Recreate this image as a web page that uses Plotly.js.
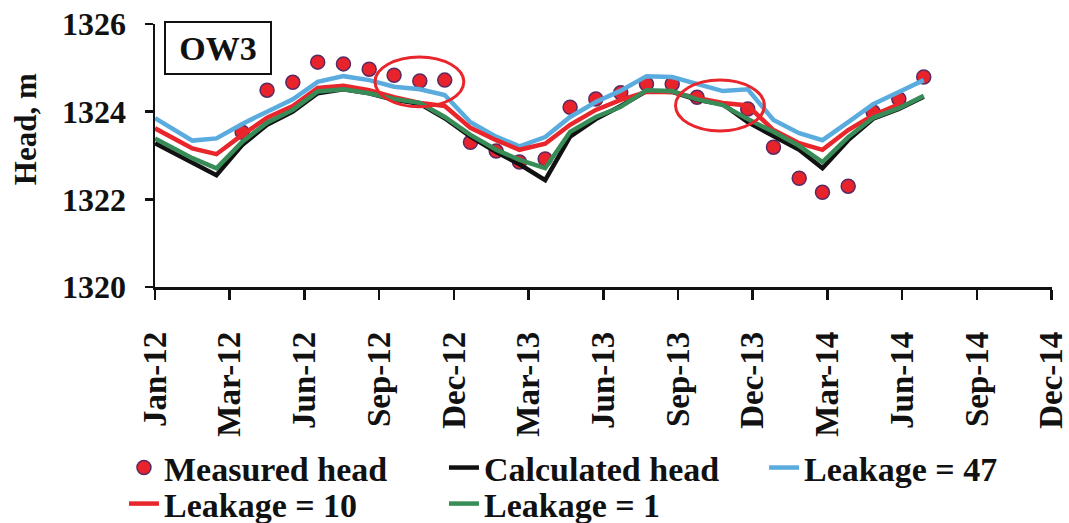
<!DOCTYPE html>
<html>
<head>
<meta charset="utf-8">
<script src="https://cdn.plot.ly/plotly-3.0.1.min.js"></script>
<style>html,body{margin:0;padding:0;background:#fff;}</style>
</head>
<body>
<div id="chart" style="width:1069px;height:523px;"></div>
<script>
// Measured heads (mid-month observations)
const measuredDates = ['2012-04-15','2012-05-15','2012-06-15','2012-07-15','2012-08-15','2012-09-15','2012-10-15','2012-11-15','2012-12-15',
  '2013-01-15','2013-02-15','2013-03-15','2013-04-15','2013-05-15','2013-06-15','2013-07-15','2013-08-15','2013-09-15','2013-10-15','2013-11-15','2013-12-15',
  '2014-01-15','2014-02-15','2014-03-15','2014-04-15','2014-05-15','2014-06-15','2014-07-15'];
const measuredHead = [1323.53,1324.49,1324.67,1325.13,1325.09,1324.97,1324.83,1324.70,1324.72,
  1323.30,1323.10,1322.85,1322.92,1324.10,1324.29,1324.43,1324.63,1324.63,1324.33,null,1324.06,
  1323.19,1322.48,1322.16,1322.30,1323.99,1324.29,1324.79];

// Model output dates
const modelDates = ['2012-01-01','2012-02-15','2012-03-15','2012-04-15','2012-05-15','2012-06-15','2012-07-15','2012-08-15','2012-09-15','2012-10-15','2012-11-15','2012-12-15',
  '2013-01-15','2013-02-15','2013-03-15','2013-04-15','2013-05-15','2013-06-15','2013-07-15','2013-08-15','2013-09-15','2013-10-15','2013-11-15','2013-12-15',
  '2014-01-15','2014-02-15','2014-03-15','2014-04-15','2014-05-15','2014-06-15','2014-07-15'];
const calculatedHead = [1323.28,1322.84,1322.55,1323.24,1323.70,1324.00,1324.42,1324.51,1324.42,1324.27,1324.18,1323.85,
  1323.43,1323.08,1322.80,1322.44,1323.43,1323.83,1324.13,1324.47,1324.45,1324.27,1324.17,1323.76,
  1323.44,1323.13,1322.71,1323.35,1323.84,1324.06,1324.34];
const leakage47 = [1323.85,1323.34,1323.39,1323.72,1324.00,1324.28,1324.68,1324.81,1324.72,1324.57,1324.51,1324.38,
  1323.76,1323.43,1323.21,1323.42,1323.88,1324.22,1324.48,1324.81,1324.79,1324.63,1324.47,1324.51,
  1323.81,1323.51,1323.35,1323.76,1324.17,1324.45,1324.72];
const leakage10 = [1323.62,1323.16,1323.03,1323.47,1323.86,1324.13,1324.54,1324.59,1324.49,1324.33,1324.20,1324.13,
  1323.63,1323.35,1323.13,1323.27,1323.70,1324.04,1324.27,1324.45,1324.45,1324.31,1324.20,1324.14,
  1323.58,1323.28,1323.13,1323.58,1323.92,1324.17];
const leakage1 = [1323.39,1322.94,1322.71,1323.31,1323.75,1324.04,1324.46,1324.51,1324.42,1324.29,1324.20,1323.88,
  1323.47,1323.13,1322.90,1322.71,1323.54,1323.88,1324.11,1324.49,1324.47,1324.28,1324.15,1323.83,
  1323.54,1323.22,1322.85,1323.42,1323.86,1324.08,1324.36];

const yTicks = [1320, 1322, 1324, 1326];

const FONT = 'Liberation Serif, Times New Roman, serif';
const lineW = 4.5;

const traces = [
  {x: measuredDates, y: measuredHead, name: 'Measured head', type: 'scatter', mode: 'markers',
   marker: {color: '#e8232b', size: 14, line: {color: '#5a2a63', width: 1.5}}, legend: 'legend'},
  {x: modelDates.slice(0, calculatedHead.length), y: calculatedHead, name: 'Calculated head', type: 'scatter', mode: 'lines',
   line: {color: '#111111', width: lineW}, legend: 'legend'},
  {x: modelDates.slice(0, leakage47.length), y: leakage47, name: 'Leakage = 47', type: 'scatter', mode: 'lines',
   line: {color: '#5aacdf', width: lineW}, legend: 'legend3'},
  {x: modelDates.slice(0, leakage10.length), y: leakage10, name: 'Leakage = 10', type: 'scatter', mode: 'lines',
   line: {color: '#e8262b', width: lineW}, legend: 'legend2'},
  {x: modelDates.slice(0, leakage1.length), y: leakage1, name: 'Leakage = 1', type: 'scatter', mode: 'lines',
   line: {color: '#378c57', width: lineW}, legend: 'legend2'}
];

const legendFont = {family: FONT, size: 34, color: '#111', weight: 'bold'};
const legendBase = {orientation: 'h', xanchor: 'left', yanchor: 'middle',
  entrywidth: 275, entrywidthmode: 'pixels', font: legendFont, bgcolor: 'rgba(0,0,0,0)'};

const layout = {
  width: 1069, height: 523,
  margin: {l: 155, r: 17, t: 24, b: 236, autoexpand: false},
  paper_bgcolor: '#fff', plot_bgcolor: '#fff',
  showlegend: true,
  xaxis: {
    type: 'date',
    range: ['2012-01-01', '2014-12-16 12:00'],
    tick0: '2012-01-01', dtick: 90 * 86400000,
    tickformat: '%b-%y', tickangle: -90,
    ticks: 'outside', ticklen: 10, tickwidth: 2.5, tickcolor: '#111',
    showline: true, linewidth: 2.5, linecolor: '#111',
    showgrid: false, zeroline: false,
    ticklabelstandoff: 19, ticklabeloverflow: 'allow',
    tickfont: {family: FONT, size: 33, color: '#111', weight: 'bold'}
  },
  yaxis: {
    range: [1320, 1326], tickvals: yTicks,
    ticks: 'outside', ticklen: 8, tickwidth: 2.5, tickcolor: '#111',
    showline: true, linewidth: 2.5, linecolor: '#111',
    showgrid: false, zeroline: false,
    ticklabelstandoff: 12,
    tickfont: {family: FONT, size: 32, color: '#111', weight: 'bold'}
  },
  legend: Object.assign({}, legendBase, {x: -0.0346, y: -0.688}),
  legend3: Object.assign({}, legendBase, {x: 0.679, y: -0.688}),
  legend2: Object.assign({}, legendBase, {x: -0.0346, y: -0.825}),
  annotations: [
    {text: 'OW3', xref: 'paper', yref: 'paper', x: 0.01, y: 1.013, xanchor: 'left', yanchor: 'top',
     showarrow: false, font: {family: FONT, size: 34, color: '#111', weight: 'bold'},
     bordercolor: '#111', borderwidth: 2, borderpad: 5, bgcolor: '#fff', width: 94, height: 40},
    {text: 'Head, m', xref: 'paper', yref: 'paper', x: -0.145, y: 0.60, xanchor: 'center', yanchor: 'middle',
     textangle: -90, showarrow: false, font: {family: FONT, size: 31, color: '#111', weight: 'bold'}}
  ],
  shapes: [
    {type: 'circle', xref: 'x', yref: 'y', x0: '2012-09-22', x1: '2013-01-07', y0: 1324.11, y1: 1325.25,
     line: {color: '#e8262b', width: 3}},
    {type: 'circle', xref: 'x', yref: 'y', x0: '2013-09-19', x1: '2014-01-04', y0: 1323.56, y1: 1324.72,
     line: {color: '#e8262b', width: 3}}
  ]
};

Plotly.newPlot('chart', traces, layout, {displayModeBar: false, staticPlot: true});
</script>
</body>
</html>
